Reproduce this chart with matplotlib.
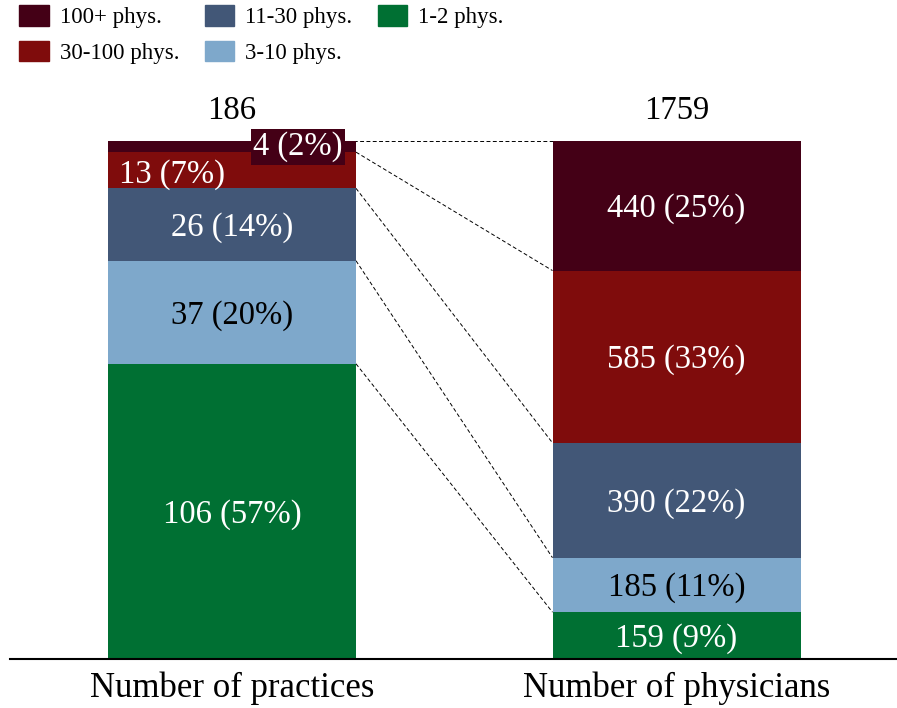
import matplotlib
matplotlib.use("Agg")
import matplotlib.pyplot as plt
from matplotlib.patches import Patch

plt.rcParams['font.family'] = ['Liberation Serif', 'DejaVu Serif']

categories = ["1-2 phys.", "3-10 phys.", "11-30 phys.", "30-100 phys.", "100+ phys."]
practices = [106, 37, 26, 13, 4]
physicians = [159, 185, 390, 585, 440]
bar_labels = ["Number of practices", "Number of physicians"]
colors = ["#007033", "#7ea8cb", "#425777", "#7f0c0c", "#440016"]
text_colors = ["white", "black", "white", "white", "white"]

fig = plt.figure(figsize=(8.97, 7.08), dpi=100)
ax = fig.add_axes([10/897, 1 - 659/708, 887/897, (659 - 141)/708])

width = 248/444.5
series = [practices, physicians]
tops = []
for xi, vals in enumerate(series):
    total = sum(vals)
    bottom = 0.0
    bounds = []
    for k, v in enumerate(vals):
        h = v / total
        ax.bar(xi, h, width=width, bottom=bottom, color=colors[k], edgecolor="none")
        pct = round(100 * v / total)
        lab = f"{v} ({pct}%)"
        if xi == 0 and k == 4:
            ax.text(xi + width/2 - 0.03, bottom + h/2, lab, ha="right", va="center",
                    fontsize=23.5, color="white",
                    bbox=dict(boxstyle="square,pad=0.08", fc=colors[k], ec="none"))
        elif xi == 0 and k == 3:
            ax.text(xi - width/2 + 0.025, bottom + h/2 - 0.008, lab, ha="left", va="center",
                    fontsize=23.5, color="white")
        else:
            ax.text(xi, bottom + h/2 - 0.006, lab, ha="center", va="center", fontsize=23.5,
                    color=text_colors[k])
        bottom += h
        bounds.append(bottom)
    tops.append(bounds)
    ax.text(xi, 1.028, f"{total}", ha="center", va="bottom", fontsize=23.5, color="black")

# dashed connectors between matching segment boundaries
for k in range(1, len(categories)):
    ax.plot([width/2, 1 - width/2], [tops[0][k - 1], tops[1][k - 1]], color="black",
            lw=0.7, ls=(0, (4, 2.5)), zorder=0)
ax.plot([width/2 - 0.02, 1 - width/2], [1, 1], color="black", lw=0.7,
        ls=(0, (4, 2.5)), zorder=0)

ax.set_xlim(-222/444.5, (897 - 232)/444.5)
ax.set_ylim(0, 1)
for s in ["top", "right", "left"]:
    ax.spines[s].set_visible(False)
ax.spines["bottom"].set_linewidth(1.5)
ax.set_yticks([])
ax.set_xticks([0, 1])
ax.set_xticklabels(bar_labels, fontsize=25)
ax.tick_params(axis="x", length=0, pad=9)

handles = [Patch(color=colors[k], label=categories[k]) for k in [4, 3, 2, 1, 0]]
fig.legend(handles=handles, loc="upper left", bbox_to_anchor=(19/897, 1 - 5/708), ncol=3,
           frameon=False, fontsize=16.5, handlelength=1.3, handleheight=1.0,
           handletextpad=0.48, columnspacing=1.1, labelspacing=0.55, borderpad=0,
           borderaxespad=0)

fig.savefig("out.png", dpi=100)
